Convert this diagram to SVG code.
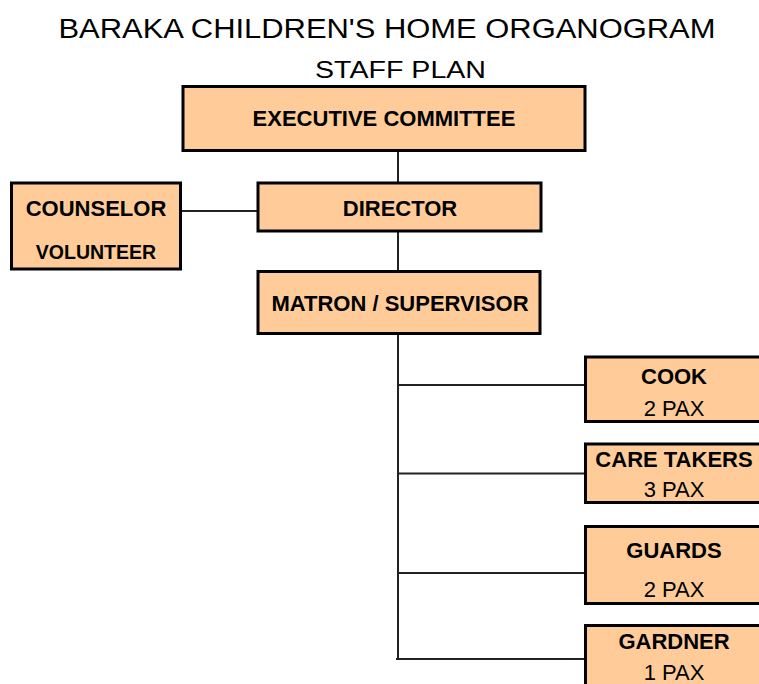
<svg xmlns="http://www.w3.org/2000/svg" width="759" height="684" viewBox="0 0 759 684">
<style>
.box{fill:#FFCC99;stroke:#000;stroke-width:3}
.t{font-family:"Liberation Sans",Arial,sans-serif;fill:#000;text-anchor:middle}
.b{font-weight:bold;font-size:22px}
.r{font-size:22px}
.ln{stroke:#222;stroke-width:2;fill:none}
</style>
<rect width="759" height="684" fill="#fff"/>
<text class="t" x="387" y="37.7" font-size="27" textLength="657" lengthAdjust="spacingAndGlyphs">BARAKA CHILDREN'S HOME ORGANOGRAM</text>
<text class="t" x="400.5" y="77.7" font-size="23" textLength="171" lengthAdjust="spacingAndGlyphs">STAFF PLAN</text>
<g id="connectors">
<line class="ln" x1="398" y1="151" x2="398" y2="183"/>
<line class="ln" x1="398" y1="232" x2="398" y2="271"/>
<line class="ln" x1="180" y1="211" x2="258" y2="211"/>
<line class="ln" x1="398" y1="334" x2="398" y2="659"/>
<line class="ln" x1="398" y1="385" x2="585" y2="385"/>
<line class="ln" x1="398" y1="473.5" x2="585" y2="473.5"/>
<line class="ln" x1="398" y1="573" x2="585" y2="573"/>
<line class="ln" x1="396" y1="659" x2="585" y2="659"/>
</g>
<g id="exec">
<rect class="box" x="183" y="86.5" width="402" height="64"/>
<text class="t b" x="384" y="126">EXECUTIVE COMMITTEE</text>
</g>
<g id="counselor">
<rect class="box" x="11.5" y="183" width="169" height="86"/>
<text class="t b" x="96" y="216">COUNSELOR</text>
<text class="t" x="96" y="259" font-weight="bold" font-size="19.5">VOLUNTEER</text>
</g>
<g id="director">
<rect class="box" x="258" y="183" width="283" height="48"/>
<text class="t b" x="400" y="216">DIRECTOR</text>
</g>
<g id="matron">
<rect class="box" x="258" y="271.5" width="282" height="62"/>
<text class="t b" x="400" y="311">MATRON / SUPERVISOR</text>
</g>
<g id="cook">
<rect class="box" x="585.5" y="357" width="180" height="64.5"/>
<text class="t b" x="674" y="384">COOK</text>
<text class="t r" x="674" y="416">2 PAX</text>
</g>
<g id="caretakers">
<rect class="box" x="585.5" y="444" width="180" height="58.5"/>
<text class="t b" x="674" y="467">CARE TAKERS</text>
<text class="t r" x="674" y="497">3 PAX</text>
</g>
<g id="guards">
<rect class="box" x="585.5" y="526.5" width="180" height="77"/>
<text class="t b" x="674" y="558">GUARDS</text>
<text class="t r" x="674" y="597">2 PAX</text>
</g>
<g id="gardner">
<rect class="box" x="585.5" y="625.5" width="180" height="70"/>
<text class="t b" x="674" y="649">GARDNER</text>
<text class="t r" x="674" y="680">1 PAX</text>
</g>
</svg>
